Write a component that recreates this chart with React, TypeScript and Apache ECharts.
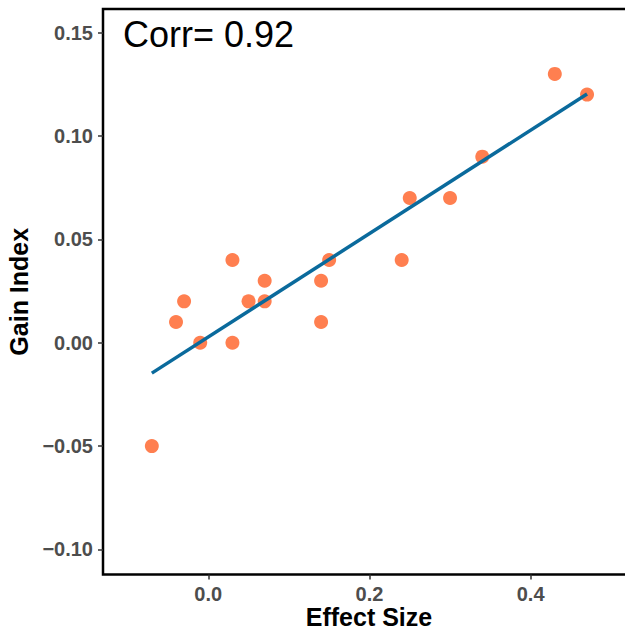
import React, { useEffect, useRef } from "react";
import * as echarts from "echarts";

const effectSize = [0.03, -0.03, -0.04, -0.01, 0.03, 0.05, 0.07, 0.07, 0.14, 0.15, 0.14, -0.07, 0.43, 0.47, 0.34, 0.25, 0.3, 0.24];
const gainIndex = [0.04, 0.02, 0.01, 0.0, 0.0, 0.02, 0.03, 0.02, 0.03, 0.04, 0.01, -0.05, 0.13, 0.12, 0.09, 0.07, 0.07, 0.04];
const xTicks = [0, 0.2, 0.4];
const yTicks = [-0.1, -0.05, 0, 0.05, 0.1, 0.15];
const corrLabel = "Corr= 0.92";
const xTitle = "Effect Size";
const yTitle = "Gain Index";

function fitLine(xs: number[], ys: number[]) {
  const n = xs.length;
  const mx = xs.reduce((a, b) => a + b, 0) / n;
  const my = ys.reduce((a, b) => a + b, 0) / n;
  let sxy = 0, sxx = 0;
  for (let i = 0; i < n; i++) {
    sxy += (xs[i] - mx) * (ys[i] - my);
    sxx += (xs[i] - mx) * (xs[i] - mx);
  }
  const b = sxy / sxx;
  const a = my - b * mx;
  const x0 = Math.min(...xs);
  const x1 = Math.max(...xs);
  return [[x0, a + b * x0], [x1, a + b * x1]];
}

const FONT = "'Liberation Sans', Arial, Helvetica, sans-serif";

export default function App() {
  const ref = useRef<HTMLDivElement>(null);
  useEffect(() => {
    if (!ref.current) return;
    const chart = echarts.init(ref.current, null, { renderer: "svg" });
    const points = effectSize.map((x, i) => [x, gainIndex[i]]);
    chart.setOption({
      animation: false,
      backgroundColor: "#ffffff",
      textStyle: { fontFamily: FONT },
      grid: {
        left: 103,
        right: -10,
        top: 9,
        bottom: 56.5,
        outerBoundsMode: "none",
        containLabel: false,
        show: true,
        borderColor: "#000",
        borderWidth: 2.5,
        backgroundColor: "transparent",
      },
      xAxis: {
        type: "value",
        min: -0.1306,
        max: 0.5295,
        axisLine: { show: false, onZero: false },
        splitLine: { show: false },
        axisTick: { show: true, length: 5, lineStyle: { color: "#333", width: 1.5 }, customValues: xTicks },
        axisLabel: {
          customValues: xTicks,
          margin: 9,
          color: "#4D4D4D",
          fontSize: 20,
          fontWeight: "bold",
          fontFamily: FONT,
          formatter: (v: number) => v.toFixed(1),
        },
        name: xTitle,
        nameLocation: "middle",
        nameGap: 30,
        nameMoveOverlap: false,
        nameTextStyle: { color: "#000", fontSize: 25, fontWeight: "bold", fontFamily: FONT },
      },
      yAxis: {
        type: "value",
        min: -0.1121,
        max: 0.1614,
        axisLine: { show: false, onZero: false },
        splitLine: { show: false },
        axisTick: { show: true, length: 5, lineStyle: { color: "#333", width: 1.5 }, customValues: yTicks },
        axisLabel: {
          customValues: yTicks,
          margin: 10,
          color: "#4D4D4D",
          fontSize: 20,
          fontWeight: "bold",
          fontFamily: FONT,
          formatter: (v: number) => v.toFixed(2).replace("-", "\u2212"),
        },
        name: yTitle,
        nameLocation: "middle",
        nameGap: 71,
        nameTextStyle: { color: "#000", fontSize: 25, fontWeight: "bold", fontFamily: FONT },
      },
      graphic: [
        {
          type: "text",
          left: 123,
          top: 16,
          style: { text: corrLabel, fill: "#000", font: `36px ${FONT}` },
        },
      ],
      series: [
        {
          type: "scatter",
          data: points,
          symbolSize: 14,
          itemStyle: { color: "#FF7F50", opacity: 1 },
          z: 2,
        },
        {
          type: "line",
          data: fitLine(effectSize, gainIndex),
          showSymbol: false,
          symbol: "none",
          lineStyle: { color: "#0A6A9C", width: 3.5 },
          z: 3,
        },
      ],
    });
    return () => chart.dispose();
  }, []);
  return <div ref={ref} style={{ position: "fixed", left: 0, top: 0, width: 625, height: 631 }} />;
}
